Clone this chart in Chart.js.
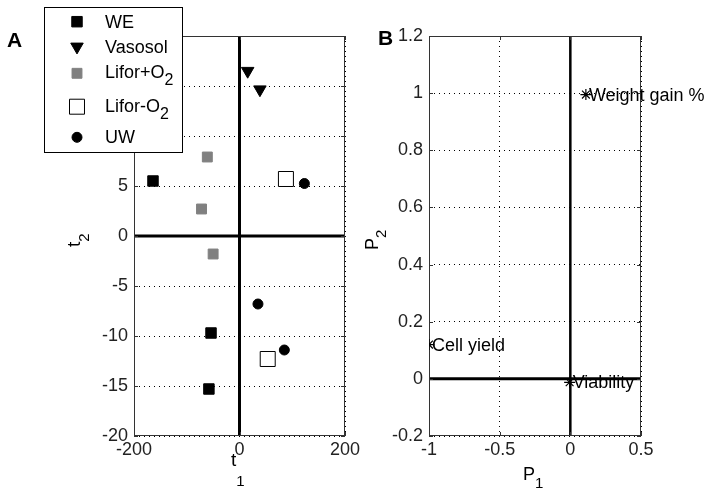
<!DOCTYPE html>
<html>
<head>
<meta charset="utf-8">
<script src="https://cdn.jsdelivr.net/npm/chart.js@4.4.0/dist/chart.umd.min.js"></script>
<style>
  html, body { margin: 0; padding: 0; background: #fff; }
  #wrap { position: relative; width: 714px; height: 496px; overflow: hidden; }
  #cA { position: absolute; left: 0; top: 0; }
  #cB { position: absolute; left: 360px; top: 0; }
</style>
</head>
<body>
<div id="wrap">
  <canvas id="cA" width="366" height="496"></canvas>
  <canvas id="cB" width="354" height="496"></canvas>
</div>
<script>
// ==========================
// DATA - panel A (scores)
// ==========================
const groupNames = ["WE", "Vasosol", "Lifor+O2", "Lifor-O2", "UW"];

const weT1 = [-164, -54, -58];
const weT2 = [5.5, -9.7, -15.3];

const vasoT1 = [15.5, 38.7];
const vasoT2 = [16.5, 14.65];

const liforPlusT1 = [-61, -72, -50];
const liforPlusT2 = [7.9, 2.7, -1.8];

const liforMinusT1 = [88, 53.5];
const liforMinusT2 = [5.7, -12.3];

const uwT1 = [123, 35, 85];
const uwT2 = [5.25, -6.8, -11.4];

const t1Ticks = [-200, 0, 200];
const t2Ticks = [-20, -15, -10, -5, 0, 5, 10, 15, 20];

// ==========================
// DATA - panel B (loadings)
// ==========================
const loadingNames = ["Weight gain %", "Cell yield", "Viability"];
const p1 = [0.11, -1.0, -0.005];
const p2 = [0.995, 0.12, -0.012];

const p1Ticks = [-1, -0.5, 0, 0.5];
const p2Ticks = [-0.2, 0, 0.2, 0.4, 0.6, 0.8, 1, 1.2];

// ==========================
// STYLE
// ==========================
const FONT = "'Liberation Sans', Arial, Helvetica, sans-serif";
const TEXT = "#222222";
const FRAME = "#333333";

Chart.defaults.font.family = FONT;
Chart.defaults.font.size = 18;
Chart.defaults.color = TEXT;

const markerStyles = [
  { pointStyle: "rect", radius: 7.4, rotation: 0, bg: "#000", border: "#000", bw: 1 },
  { pointStyle: "triangle", radius: 7.2, rotation: 180, bg: "#000", border: "#000", bw: 1 },
  { pointStyle: "rect", radius: 7, rotation: 0, bg: "#808080", border: "#808080", bw: 1 },
  { pointStyle: "rect", radius: 10.6, rotation: 0, bg: "#fff", border: "#000", bw: 1 },
  { pointStyle: "circle", radius: 5, rotation: 0, bg: "#000", border: "#000", bw: 1 }
];

function toPoints(xs, ys) {
  return xs.map((v, i) => ({ x: v, y: ys[i] }));
}

function fmt(v) {
  return String(Math.round(v * 10) / 10);
}

// ==========================
// DRAW HELPERS
// ==========================
function hline(ctx, x1, x2, y) {
  ctx.beginPath(); ctx.moveTo(x1, y); ctx.lineTo(x2, y); ctx.stroke();
}
function vline(ctx, x, y1, y2) {
  ctx.beginPath(); ctx.moveTo(x, y1); ctx.lineTo(x, y2); ctx.stroke();
}

// text with a subscript, left aligned at x, baseline y
function subText(ctx, main, sub, x, y, size, subSize, drop) {
  ctx.textAlign = "left";
  ctx.textBaseline = "alphabetic";
  ctx.font = size + "px " + FONT;
  ctx.fillText(main, x, y);
  const w = ctx.measureText(main).width;
  ctx.font = subSize + "px " + FONT;
  ctx.fillText(sub, x + w, y + drop);
}

function drawFrame(chart, zeroV, zeroH) {
  const { ctx, chartArea: a, scales } = chart;
  const x = scales.x, y = scales.y;
  ctx.save();
  ctx.setLineDash([]);

  // thick zero axes
  ctx.strokeStyle = "#000";
  ctx.lineWidth = zeroV;
  vline(ctx, x.getPixelForValue(0), a.top, a.bottom);
  ctx.lineWidth = zeroH;
  hline(ctx, a.left, a.right, y.getPixelForValue(0));

  // box + inner ticks
  ctx.strokeStyle = FRAME;
  ctx.lineWidth = 1;
  ctx.strokeRect(a.left + 0.5, a.top + 0.5, a.width - 1, a.height - 1);
  y.ticks.forEach(t => {
    const py = Math.round(y.getPixelForValue(t.value)) + 0.5;
    hline(ctx, a.left, a.left + 4, py);
    hline(ctx, a.right - 4, a.right, py);
  });
  x.ticks.forEach(t => {
    const px = Math.round(x.getPixelForValue(t.value)) + 0.5;
    vline(ctx, px, a.top, a.top + 4);
    vline(ctx, px, a.bottom - 4, a.bottom);
  });
  ctx.restore();
}

function axisScale(min, max, ticks, fixedSize, isX) {
  return {
    type: "linear",
    min: min,
    max: max,
    afterBuildTicks: s => { s.ticks = ticks.map(v => ({ value: v })); },
    afterFit: s => {
      if (isX) s.height = fixedSize; else s.width = fixedSize;
    },
    grid: { color: "#000", lineWidth: 1, drawTicks: false },
    border: { display: false, dash: [1, 4] },
    ticks: {
      padding: isX ? 3 : 6,
      color: TEXT,
      font: { size: 18 },
      maxRotation: 0,
      autoSkip: false,
      callback: v => fmt(v)
    }
  };
}

// ==========================
// PANEL A
// ==========================
const seriesA = [
  [weT1, weT2], [vasoT1, vasoT2], [liforPlusT1, liforPlusT2],
  [liforMinusT1, liforMinusT2], [uwT1, uwT2]
];

const decorA = {
  id: "decorA",
  beforeDatasetsDraw(chart) {
    drawFrame(chart, 3, 3);
  },
  afterDraw(chart) {
    const ctx = chart.ctx;
    ctx.save();
    ctx.fillStyle = "#000";

    // panel letter
    ctx.font = "bold 21px " + FONT;
    ctx.textAlign = "left";
    ctx.textBaseline = "alphabetic";
    ctx.fillText("A", 7, 47);

    // axis titles
    subText(ctx, "t", "1", 231, 466, 19, 15, 20);
    ctx.save();
    ctx.translate(80, 240);
    ctx.rotate(-Math.PI / 2);
    subText(ctx, "t", "2", -7, 0, 19, 15, 9);
    ctx.restore();

    // legend
    ctx.fillStyle = "#fff";
    ctx.fillRect(44, 7, 138, 145);
    ctx.strokeStyle = "#000";
    ctx.lineWidth = 1;
    ctx.strokeRect(44.5, 7.5, 138, 145);

    const markY = [21.7, 46.7, 73.3, 106.7, 137.3];
    const textY = [28, 53, 78, 112, 143];
    groupNames.forEach((name, i) => {
      const m = markerStyles[i];
      ctx.fillStyle = m.bg;
      ctx.strokeStyle = m.border;
      ctx.lineWidth = m.bw;
      Chart.helpers.drawPoint(ctx, {
        pointStyle: m.pointStyle, radius: m.radius, rotation: m.rotation, borderWidth: m.bw
      }, 77, markY[i]);
      ctx.fillStyle = "#000";
      const subMatch = name.match(/^(.*O)2$/);
      if (subMatch) {
        subText(ctx, subMatch[1], "2", 105, textY[i], 18, 16, 7);
      } else {
        ctx.font = "18px " + FONT;
        ctx.textAlign = "left";
        ctx.textBaseline = "alphabetic";
        ctx.fillText(name, 105, textY[i]);
      }
    });
    ctx.restore();
  }
};

new Chart(document.getElementById("cA"), {
  type: "scatter",
  data: {
    datasets: seriesA.map((s, i) => ({
      label: groupNames[i],
      data: toPoints(s[0], s[1]),
      pointStyle: markerStyles[i].pointStyle,
      pointRadius: markerStyles[i].radius,
      pointRotation: markerStyles[i].rotation,
      backgroundColor: markerStyles[i].bg,
      borderColor: markerStyles[i].border,
      borderWidth: markerStyles[i].bw
    }))
  },
  options: {
    responsive: false,
    animation: false,
    layout: { padding: { top: 36, right: 21, left: 0, bottom: 0 } },
    plugins: { legend: { display: false }, tooltip: { enabled: false } },
    scales: {
      x: axisScale(-200, 200, t1Ticks, 60, true),
      y: axisScale(-20, 20, t2Ticks, 134, false)
    }
  },
  plugins: [decorA]
});

// ==========================
// PANEL B
// ==========================
const decorB = {
  id: "decorB",
  beforeDatasetsDraw(chart) {
    drawFrame(chart, 2.5, 3);
  },
  afterDraw(chart) {
    const ctx = chart.ctx;
    const x = chart.scales.x, y = chart.scales.y;
    ctx.save();
    ctx.fillStyle = "#000";

    ctx.font = "bold 21px " + FONT;
    ctx.textAlign = "left";
    ctx.textBaseline = "alphabetic";
    ctx.fillText("B", 18, 45);

    subText(ctx, "P", "1", 163, 480, 18, 15, 8);
    ctx.save();
    ctx.translate(18, 240);
    ctx.rotate(-Math.PI / 2);
    subText(ctx, "P", "2", -10, 0, 18, 15, 8);
    ctx.restore();

    // loading labels
    ctx.font = "18px " + FONT;
    ctx.textAlign = "left";
    ctx.textBaseline = "middle";
    loadingNames.forEach((name, i) => {
      ctx.fillText(name, x.getPixelForValue(p1[i]) + 3, y.getPixelForValue(p2[i]) + 1);
    });
    ctx.restore();
  }
};

new Chart(document.getElementById("cB"), {
  type: "scatter",
  data: {
    datasets: [{
      label: "loadings",
      data: toPoints(p1, p2),
      pointStyle: "star",
      pointRadius: 5.5,
      borderColor: "#000",
      backgroundColor: "#000",
      borderWidth: 1.2
    }]
  },
  options: {
    responsive: false,
    animation: false,
    layout: { padding: { top: 36, right: 73, left: 0, bottom: 0 } },
    plugins: { legend: { display: false }, tooltip: { enabled: false } },
    scales: {
      x: axisScale(-1, 0.5, p1Ticks, 60, true),
      y: axisScale(-0.2, 1.2, p2Ticks, 69, false)
    }
  },
  plugins: [decorB]
});
</script>
</body>
</html>
